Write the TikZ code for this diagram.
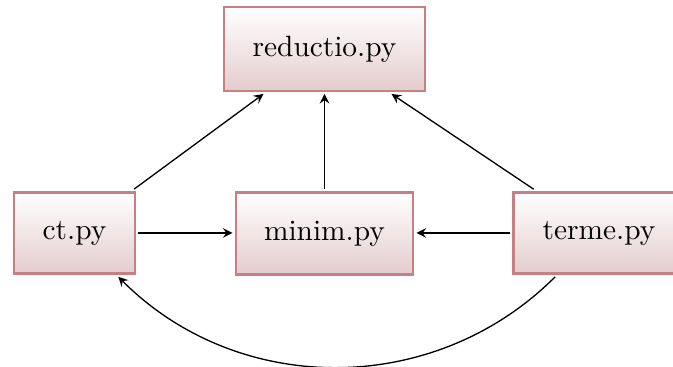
\documentclass[tikz,border=0pt]{standalone}
\usetikzlibrary{arrows}
\definecolor{boxline}{RGB}{196,128,130}
\definecolor{boxshade}{RGB}{228,204,206}
\begin{document}
\begin{tikzpicture}[x=0.3403pt,y=-0.3403pt,>=stealth,
  module/.style={draw=boxline,line width=0.8pt,top color=white,bottom color=boxshade,
    inner sep=0pt,outer sep=1.1pt,rectangle},
  dep/.style={->,line width=0.45pt}]
  \useasboundingbox (0,0) rectangle (673,367);
  \node[module,minimum width=68.2pt,minimum height=28.4pt] (red) at (324.5,49) {reductio.py};
  \node[module,minimum width=41pt,minimum height=27.6pt] (ct) at (74.5,233) {ct.py};
  \node[module,minimum width=60.4pt,minimum height=28pt] (min) at (324.5,233.5) {minim.py};
  \node[module,minimum width=58.3pt,minimum height=27.6pt] (ter) at (599,233) {terme.py};
  \draw[dep] (ct) -- (red);
  \draw[dep] (min) -- (red);
  \draw[dep] (ter) -- (red);
  \draw[dep] (ct.east) -- (min.west |- ct.east);
  \draw[dep] (ter.west) -- (min.east |- ter.west);
  \draw[dep] (ter) to[out=225,in=-45] (ct);
\end{tikzpicture}
\end{document}
